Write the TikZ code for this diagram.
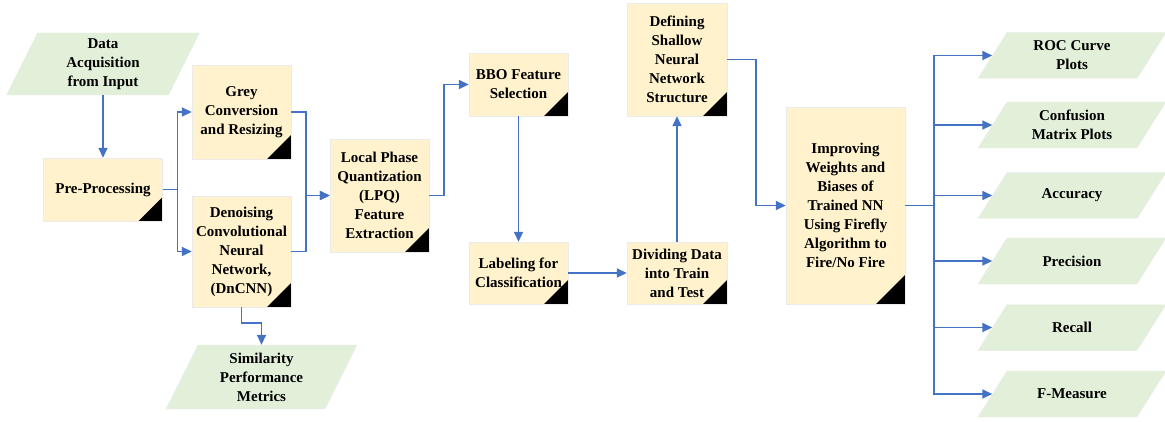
\documentclass[tikz,border=0pt]{standalone}
\usepackage{fontspec}
\setmainfont{Liberation Serif}
\usetikzlibrary{arrows.meta}
\definecolor{boxfill}{HTML}{FFF2CC}
\definecolor{iofill}{HTML}{E2F0D9}
\definecolor{linkblue}{HTML}{4472C4}
% name, x, y, total width, height, slant, text
\newcommand{\ionode}[7]{%
  \filldraw[io] (#2-#4/2,#3+#5/2) -- (#2-#4/2+#6,#3-#5/2) -- (#2+#4/2,#3-#5/2) -- (#2+#4/2-#6,#3+#5/2) -- cycle;
  \node[align=center, inner sep=1pt, minimum width=#4pt-#6pt, minimum height=#5pt] (#1) at (#2,#3) {#7};}
\begin{document}
\begin{tikzpicture}[x=1pt,y=-1pt,
  font=\fontsize{15}{19}\selectfont\bfseries,
  corner/.style={path picture={\fill[black] (path picture bounding box.south east) -- ++(-#1pt,0pt) -- ++(#1pt,#1pt) -- cycle;}},
  corner/.default=24,
  box/.style={draw=black!8, fill=boxfill, align=center, inner sep=1pt, corner},
  io/.style={draw=black!8, fill=iofill},
  link/.style={draw=linkblue, line width=1.5pt, -{Triangle[length=10pt,width=9pt]}}]
\useasboundingbox (0,0) rectangle (1165,422);

\ionode{data}{103}{64}{193}{62}{31}{Data\\Acquisition\\from Input}
\node[box, minimum width=119pt, minimum height=63pt] (pre) at (103,189.5) {Pre-Processing};
\node[box, minimum width=99pt, minimum height=94pt] (grey) at (241.5,112) {Grey\\Conversion\\and Resizing};
\node[box, minimum width=99pt, minimum height=111pt] (dncnn) at (241.5,251.5) {Denoising\\Convolutional\\Neural\\Network,\\(DnCNN)};
\ionode{sim}{261.5}{377}{191}{64}{32}{Similarity\\Performance\\Metrics}
\node[box, minimum width=99pt, minimum height=113pt] (lpq) at (379.5,195.5) {Local Phase\\Quantization\\(LPQ)\\Feature\\Extraction};
\node[box, minimum width=99pt, minimum height=63pt] (bbo) at (518.5,84.5) {BBO Feature\\Selection};
\node[box, minimum width=99pt, minimum height=62pt] (label) at (518.5,273) {Labeling for\\Classification};
\node[box, minimum width=100pt, minimum height=62pt] (divide) at (677,273) {Dividing Data\\into Train\\and Test};
\node[box, minimum width=100pt, minimum height=113pt] (define) at (677,59.5) {Defining\\Shallow\\Neural\\Network\\Structure};
\node[box, corner=29, minimum width=119pt, minimum height=197pt] (improve) at (845.5,205.5) {Improving\\Weights and\\Biases of\\Trained NN\\Using Firefly\\Algorithm to\\Fire/No Fire};

% outputs
\ionode{roc}{1072}{55.5}{188}{46}{29}{ROC Curve\\Plots}
\ionode{conf}{1072}{125}{188}{46}{29}{Confusion\\Matrix Plots}
\ionode{acc}{1072}{195.5}{188}{46}{29}{Accuracy}
\ionode{prec}{1072}{261}{188}{46}{29}{Precision}
\ionode{rec}{1072}{327.5}{188}{46}{29}{Recall}
\ionode{fm}{1072}{394}{188}{46}{29}{F-Measure}

\draw[link] (data) -- (pre);
\draw[link] (pre.east) -- ++(15,0) |- (grey.west);
\draw[link] (pre.east) -- ++(15,0) |- (dncnn.west);
\draw[link] (grey.east) -- ++(15,0) |- (lpq.west);
\draw[link] (dncnn.east) -- ++(15,0) |- (lpq.west);
\draw[link] (dncnn.south) -- ++(0,16) -| (sim.north);
\draw[link] (lpq.east) -- ++(15,0) |- (bbo.west);
\draw[link] (bbo) -- (label);
\draw[link] (label) -- (divide);
\draw[link] (divide) -- (define);
\draw[link] (define.east) -- ++(29,0) |- (improve.west);
\foreach \o in {roc,conf,acc,prec,rec,fm}
  \draw[link] (improve.east) -- ++(29,0) |- (\o.west);
\end{tikzpicture}
\end{document}
